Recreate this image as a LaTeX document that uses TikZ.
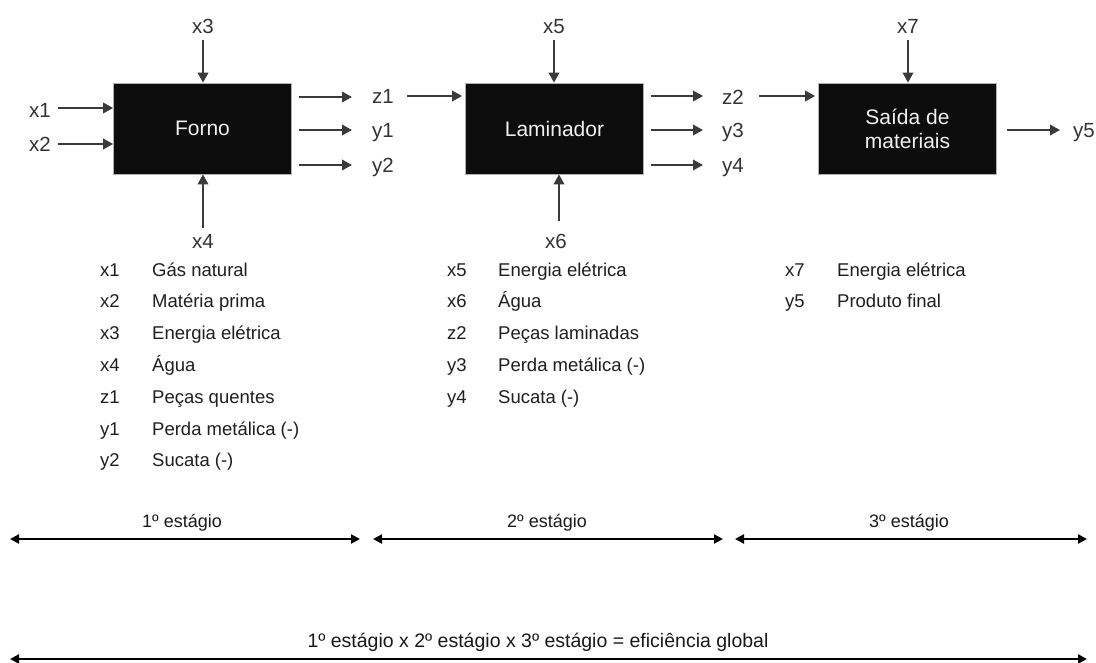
\documentclass[tikz,border=0pt]{standalone}
\usepackage{fontspec}
\setmainfont{Liberation Sans}
\usetikzlibrary{arrows.meta}
\definecolor{ink}{HTML}{333333}
\definecolor{flowgray}{HTML}{3A3A3A}
\begin{document}
\begin{tikzpicture}[x=1pt,y=-1pt,
  proc/.style={draw=gray!60, line width=0.8pt, fill=black!95, text=white!94!black,
    minimum width=178pt, minimum height=91pt, inner sep=0pt, align=center,
    font=\fontsize{21}{24}\selectfont},
  lbl/.style={text=ink, inner sep=0pt, anchor=base, font=\fontsize{20.5}{23}\selectfont},
  lblw/.style={lbl, anchor=base west},
  flow/.style={draw=flowgray, line width=2pt, -{Triangle[length=10pt,width=10.5pt]}},
  key/.style={anchor=base west, inner sep=0pt, text=black!88,
    font=\fontsize{18.5}{21}\selectfont},
  span/.style={draw=black, line width=2.6pt,
    {Triangle[length=9pt,width=9pt]}-{Triangle[length=9pt,width=9pt]}},
  stagelbl/.style={inner sep=0pt, anchor=base, text=black!90,
    font=\fontsize{18}{20}\selectfont}
]
\useasboundingbox[fill=white] (0,0) rectangle (1096,662);

% process blocks
\node[proc] (forno) at (202.5,128.5) {Forno};
\node[proc] (lam)   at (554.5,128.5) {Laminador};
\node[proc] (saida) at (907.5,128.5) {Saída de\\materiais};

% stage 1 labels
\node[lbl]  (x1) at (40,117)    {x1};
\node[lbl]  (x2) at (40,151)    {x2};
\node[lbl]  (x3) at (203,33.3)  {x3};
\node[lbl]  (x4) at (203,248)   {x4};
\node[lblw] (z1) at (372,103.5) {z1};
\node[lblw] (y1) at (372,137)   {y1};
\node[lblw] (y2) at (372,172)   {y2};

% stage 2 labels
\node[lbl]  (x5) at (554,33)   {x5};
\node[lbl]  (x6) at (556,248)  {x6};
\node[lblw] (z2) at (722,104)  {z2};
\node[lblw] (y3) at (722,137)  {y3};
\node[lblw] (y4) at (722,172)  {y4};

% stage 3 labels
\node[lbl]  (x7) at (908,33)    {x7};
\node[lblw] (y5) at (1073,137)  {y5};

% arrow ends next to the labels
\coordinate (x1t) at (58,108);
\coordinate (x2t) at (58,144);
\coordinate (x3t) at (203,40);
\coordinate (x4t) at (203,228);
\coordinate (z1h) at (352,97);
\coordinate (y1h) at (352,130);
\coordinate (y2h) at (352,165);
\coordinate (z1t) at (407,96);
\coordinate (x5t) at (554,40);
\coordinate (x6t) at (559,221);
\coordinate (z2h) at (703,96);
\coordinate (y3h) at (703,130);
\coordinate (y4h) at (703,165);
\coordinate (z2t) at (759,96);
\coordinate (x7t) at (908,40);
\coordinate (y5h) at (1060,130);

% Forno flows
\draw[flow] (x1t) -- (x1t -| forno.west);
\draw[flow] (x2t) -- (x2t -| forno.west);
\draw[flow] (x3t) -- (x3t |- forno.north);
\draw[flow] (x4t) -- (x4t |- forno.south);
\draw[flow] ([xshift=7pt]forno.east |- z1h) -- (z1h);
\draw[flow] ([xshift=7pt]forno.east |- y1h) -- (y1h);
\draw[flow] ([xshift=7pt]forno.east |- y2h) -- (y2h);

% Laminador flows
\draw[flow, shorten >=3pt] (z1t) -- (z1t -| lam.west);
\draw[flow] (x5t) -- (x5t |- lam.north);
\draw[flow] (x6t) -- (x6t |- lam.south);
\draw[flow] ([xshift=7pt]lam.east |- z2h) -- (z2h);
\draw[flow] ([xshift=7pt]lam.east |- y3h) -- (y3h);
\draw[flow] ([xshift=7pt]lam.east |- y4h) -- (y4h);

% Saida flows
\draw[flow, shorten >=3pt] (z2t) -- (z2t -| saida.west);
\draw[flow] (x7t) -- (x7t |- saida.north);
\draw[flow] ([xshift=10pt]saida.east |- y5h) -- (y5h);

% legend, stage 1
\foreach \k/\t [count=\i from 0] in {x1/Gás natural, x2/Matéria prima,
    x3/Energia elétrica, x4/Água, z1/Peças quentes,
    y1/Perda metálica (-), y2/Sucata (-)} {
  \node[key] (ka\i) at (100,276+31.83*\i) {\k};
  \node[key] (da\i) at (152,276+31.83*\i) {\t};
}
% legend, stage 2
\foreach \k/\t [count=\i from 0] in {x5/Energia elétrica, x6/Água,
    z2/Peças laminadas, y3/Perda metálica (-), y4/Sucata (-)} {
  \node[key] (kb\i) at (447,276+31.83*\i) {\k};
  \node[key] (db\i) at (498,276+31.83*\i) {\t};
}
% legend, stage 3
\foreach \k/\t [count=\i from 0] in {x7/Energia elétrica, y5/Produto final} {
  \node[key] (kc\i) at (785,276+31.83*\i) {\k};
  \node[key] (dc\i) at (837,276+31.83*\i) {\t};
}

% stage spans
\coordinate (s1a) at (10,539);   \coordinate (s1b) at (360,539);
\coordinate (s2a) at (373,539);  \coordinate (s2b) at (723,539);
\coordinate (s3a) at (735,539);  \coordinate (s3b) at (1087,539);
\coordinate (ga)  at (10,659);   \coordinate (gb)  at (1087,659);
\draw[span] (s1a) -- (s1b);
\draw[span] (s2a) -- (s2b);
\draw[span] (s3a) -- (s3b);
\draw[span] (ga) -- (gb);

\node[stagelbl] (st1) at (182,527) {1º estágio};
\node[stagelbl] (st2) at (547,527) {2º estágio};
\node[stagelbl] (st3) at (909,527) {3º estágio};
\node[stagelbl, font=\fontsize{19.5}{22}\selectfont] (glob) at (538,647)
  {1º estágio x 2º estágio x 3º estágio = eficiência global};
\end{tikzpicture}
\end{document}
